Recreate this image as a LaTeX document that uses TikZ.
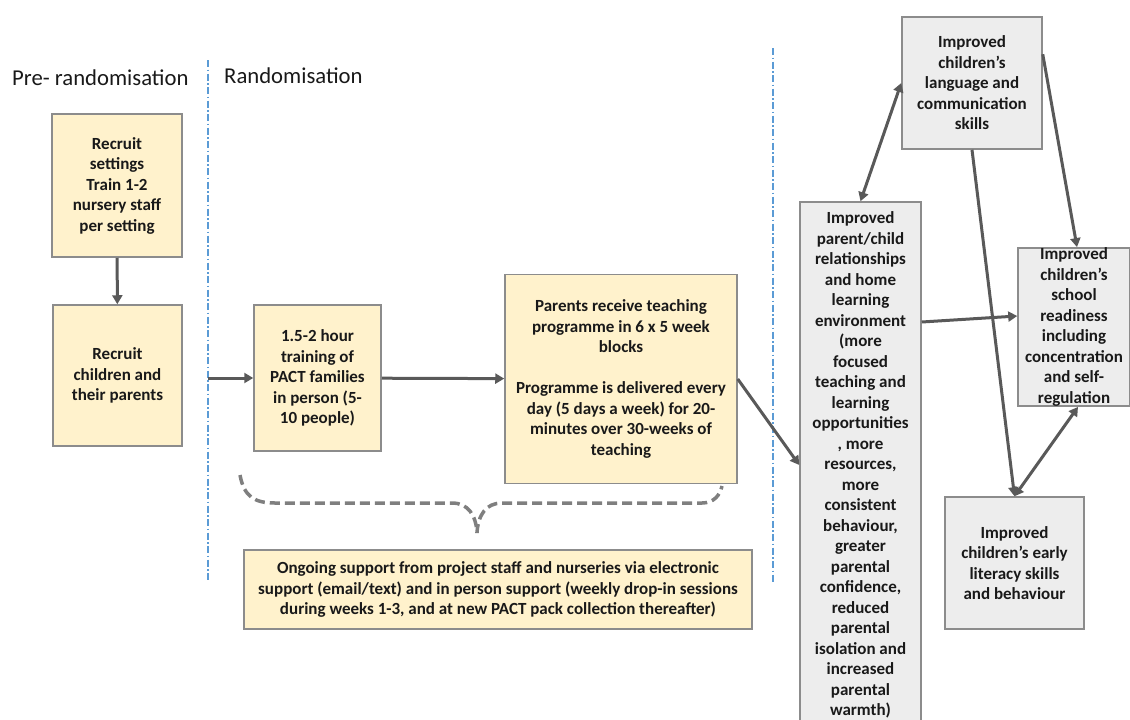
\documentclass[tikz,border=0pt]{standalone}
\usepackage{fontspec}
\setmainfont{Carlito}
\usetikzlibrary{arrows.meta}

\definecolor{boxyellow}{HTML}{FFF2CC}
\definecolor{boxgrey}{HTML}{EDEDED}
\definecolor{edgegrey}{HTML}{8C8C8C}
\definecolor{arrowgrey}{HTML}{595959}
\definecolor{bracegrey}{HTML}{7F7F7F}
\definecolor{splitblue}{HTML}{5B9BD5}
\newcommand{\boxfont}{\bfseries\fontsize{17}{20.5}\selectfont}
\newcommand{\headfont}{\fontsize{22.7}{26}\selectfont}

\begin{document}
\begin{tikzpicture}[x=1pt,y=-1pt,
  ybox/.style={draw=edgegrey,line width=1.5pt,fill=boxyellow,align=center,
    inner sep=0pt,font=\boxfont,text=black!90},
  gbox/.style={ybox,fill=boxgrey},
  flow/.style={arrowgrey,line width=3pt,-{Triangle[length=9pt,width=10pt]}},
  both/.style={flow,{Triangle[length=9pt,width=10pt]}-{Triangle[length=9pt,width=10pt]}},
  split/.style={splitblue,line width=1.2pt,dash pattern=on 7pt off 2.5pt on 1.5pt off 2.5pt},
  brace/.style={bracegrey,line width=3.5pt,dash pattern=on 10pt off 5pt},
  head/.style={anchor=base west,inner sep=0pt,font=\headfont,text=black!90}]
  \useasboundingbox (0,0) rectangle (1130,720);

  % phase headings and dividers
  \node[head] (pre) at (12,85) {Pre- randomisation};
  \node[head] (rand) at (224,83) {Randomisation};
  \draw[split] (208,60) -- (208,580);
  \draw[split] (773,48) -- (773,582);

  % pre-randomisation
  \node[ybox,minimum width=130pt,minimum height=143pt] (setA) at (117,185.5)
    {Recruit\\settings\\Train 1-2\\nursery staff\\per setting};
  \node[ybox,minimum width=129pt,minimum height=141pt] (kids) at (117.5,375.5)
    {Recruit\\children and\\their parents};
  \draw[flow] (setA) -- (kids);

  % programme
  \node[ybox,minimum width=127pt,minimum height=146pt] (train) at (317.5,378)
    {1.5-2 hour\\training of\\PACT families\\in person (5-\\10 people)};
  \node[ybox,minimum width=232pt,minimum height=209pt] (prog) at (621,379)
    {Parents receive teaching\\programme in 6 x 5 week\\blocks\\[20.5pt]
     Programme is delivered every\\day (5 days a week) for 20-\\minutes over 30-weeks of\\teaching};
  \node[ybox,minimum width=508pt,minimum height=79pt] (support) at (498,589.5)
    {Ongoing support from project staff and nurseries via electronic\\
     support (email/text) and in person support (weekly drop-in sessions\\
     during weeks 1-3, and at new PACT pack collection thereafter)};
  \coordinate (rnd) at (208,378);
  \draw[flow] (rnd) -- (train);
  \draw[flow] (train) -- (prog);
  \draw[brace] (240,475) .. controls (244,497) and (255,503) .. (275,503) -- (452,503)
    .. controls (468,503) and (476,515) .. (477,533)
    .. controls (478,515) and (486,503) .. (502,503) -- (702,503)
    .. controls (714,503) and (720,495) .. (722,486);

  % outcomes
  \node[gbox,minimum width=121pt,minimum height=526pt] (home) at (860.5,465)
    {Improved\\parent/child\\relationships\\and home\\learning\\environment\\(more\\focused\\teaching and\\learning\\opportunities\\, more\\resources,\\more\\consistent\\behaviour,\\greater\\parental\\confidence,\\reduced\\parental\\isolation and\\increased\\parental\\warmth)};
  \node[gbox,minimum width=140pt,minimum height=132pt] (lang) at (972,83)
    {Improved\\children’s\\language and\\communication\\skills};
  \node[gbox,minimum width=112pt,minimum height=158pt] (ready) at (1074,327)
    {Improved\\children’s\\school\\readiness\\including\\concentration\\and self-\\regulation};
  \node[gbox,minimum width=139pt,minimum height=132pt] (lit) at (1014.5,563)
    {Improved\\children’s early\\literacy skills\\and behaviour};

  \draw[flow] (prog.east) -- (home.west);
  \draw[both] (home.north) -- (lang.west);
  \draw[flow] ([yshift=-38pt]lang.north east) -- ([xshift=3pt]ready.north);
  \draw[flow] (lang.south) -- (lit.north);
  \draw[flow] ([yshift=143pt]home.east) -- ([yshift=11pt]ready.west);
  \draw[both] (lit.north) -- ([xshift=4pt]ready.south);
\end{tikzpicture}
\end{document}
